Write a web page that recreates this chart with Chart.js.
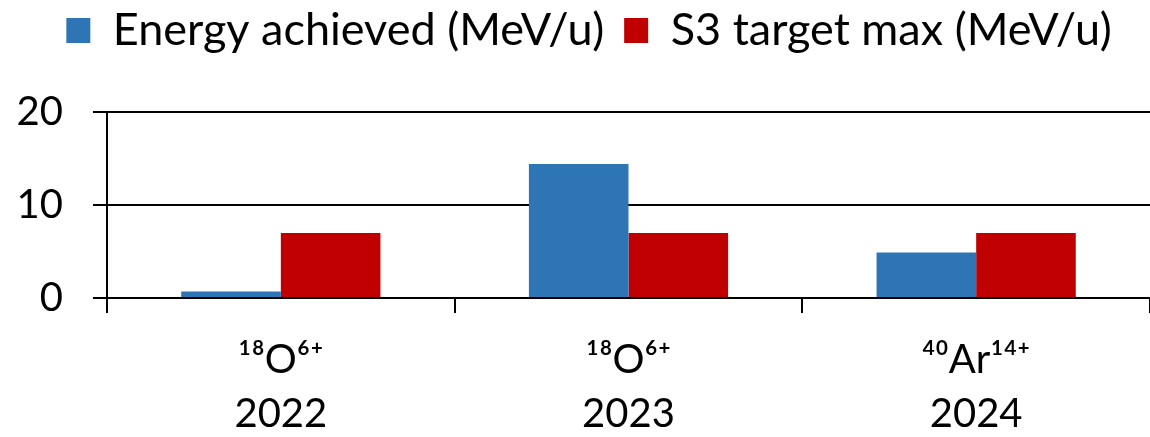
<!DOCTYPE html>
<html>
<head>
<meta charset="utf-8">
<script src="https://cdn.jsdelivr.net/npm/chart.js@4"></script>
<style>
  html, body { margin: 0; padding: 0; background: #fff; }
  #wrap { width: 1150px; height: 437px; }
</style>
</head>
<body>
<div id="wrap"><canvas id="chart"></canvas></div>
<script>
// data
const ions = ['\u00B9\u2078O\u2076\u207A', '\u00B9\u2078O\u2076\u207A', '\u2074\u2070Ar\u00B9\u2074\u207A'];
const years = ['2022', '2023', '2024'];
const energyAchieved = [0.7, 14.4, 4.9];
const s3TargetMax = [7, 7, 7];
const yTicks = [0, 10, 20];

const FONT = "Lato, 'DejaVu Sans', sans-serif";

// fixed-height legend block so the plot starts where the reference does,
// and nudge the legend row up and a bit right
const legendHeight = {
    id: 'legendHeight',
    beforeInit(chart) {
        const fit = chart.legend.fit;
        chart.legend.fit = function () {
            fit.call(this);
            this.height = 112;
        };
    },
    afterLayout(chart) {
        chart.legend.top -= 12;
        chart.legend.left += 12;
        chart.legend.right += 12;
    }
};

const ctx = document.getElementById('chart').getContext('2d');
const chart = new Chart(ctx, {
    type: 'bar',
    data: {
        labels: ions.map((ion, i) => [ion, years[i]]),
        datasets: [
            { label: 'Energy achieved (MeV/u)', data: energyAchieved, backgroundColor: '#2E75B6' },
            { label: 'S3 target max (MeV/u)', data: s3TargetMax, backgroundColor: '#C00000' }
        ]
    },
    plugins: [legendHeight],
    options: {
        responsive: true,
        maintainAspectRatio: false,
        animation: false,
        layout: { padding: { left: 0, right: -4, top: 0, bottom: 0 } },
        datasets: { bar: { categoryPercentage: 0.573, barPercentage: 1.0 } },
        plugins: {
            tooltip: { enabled: false },
            legend: {
                position: 'top',
                labels: {
                    color: '#000',
                    font: { family: FONT, size: 45, lineHeight: 1.2 },
                    boxWidth: 24,
                    boxHeight: 25,
                    padding: 20
                }
            }
        },
        scales: {
            x: {
                afterFit: axis => { axis.height = 139; },
                grid: { display: true, drawOnChartArea: false, drawTicks: true, tickLength: 15, color: '#000', lineWidth: 2 },
                border: { display: true, color: '#000', width: 2 },
                ticks: { color: '#000', font: { family: FONT, size: 40, lineHeight: 1.35 }, padding: 20, maxRotation: 0 }
            },
            y: {
                min: 0,
                max: 20,
                afterBuildTicks: axis => { axis.ticks = yTicks.map(v => ({ value: v })); },
                afterFit: axis => { axis.width = 107; },
                grid: { color: '#000', lineWidth: 2, tickLength: 14 },
                border: { display: true, color: '#000', width: 2 },
                ticks: { color: '#000', font: { family: FONT, size: 40 }, padding: 30 }
            }
        }
    }
});
</script>
</body>
</html>
